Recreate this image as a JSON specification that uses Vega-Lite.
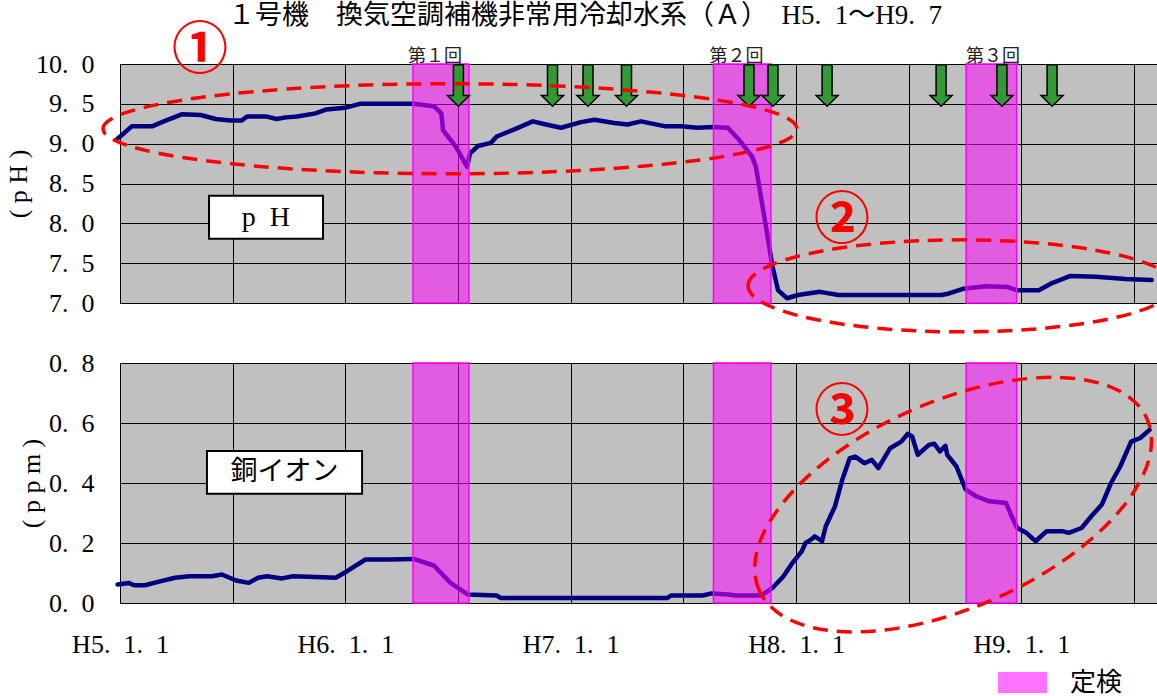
{
  "$schema": "https://vega.github.io/schema/vega-lite/v6.json",
  "background": "white",
  "padding": {"left": 5, "top": 2, "right": 0, "bottom": 0},
  "bounds": "flush",
  "spacing": 60,
  "title": {"text": "１号機　換気空調補機非常用冷却水系（Ａ）　H5.\u20021〜H9.\u20027", "font": "Liberation Serif, Noto Sans CJK JP", "fontSize": 27, "fontWeight": "normal", "color": "black", "anchor": "middle", "frame": "group", "dx": -54, "offset": -8},
  "config": {
    "view": {"fill": "#c0c0c0", "stroke": "#808080", "strokeWidth": 1},
    "axis": {"gridColor": "black", "gridWidth": 1, "gridOpacity": 1, "domain": false, "ticks": false, "labelFlush": false, "labelOverlap": false, "labelFont": "Liberation Serif", "labelFontSize": 26, "labelColor": "black", "titleFont": "Liberation Serif", "titleFontSize": 26, "titleFontWeight": "normal", "titleColor": "black"}
  },
  "resolve": {"scale": {"y": "independent", "color": "independent"}, "legend": {"color": "independent"}},
  "datasets": {
    "ph": [
      {"m": -0.19, "v": 9.05}, {"m": 0.64, "v": 9.22}, {"m": 1.74, "v": 9.22}, {"m": 2.33, "v": 9.28}, {"m": 3.32, "v": 9.37}, {"m": 4.30, "v": 9.36}, {"m": 5.09, "v": 9.31}, {"m": 5.88, "v": 9.29}, {"m": 6.47, "v": 9.29}, {"m": 6.76, "v": 9.34}, {"m": 7.83, "v": 9.34}, {"m": 8.34, "v": 9.31}, {"m": 8.83, "v": 9.33}, {"m": 9.42, "v": 9.34}, {"m": 10.41, "v": 9.38}, {"m": 11.0, "v": 9.43}, {"m": 11.98, "v": 9.45}, {"m": 12.77, "v": 9.50}, {"m": 15.63, "v": 9.50}, {"m": 16.71, "v": 9.47}, {"m": 17.11, "v": 9.38}, {"m": 17.2, "v": 9.17}, {"m": 17.89, "v": 8.96}, {"m": 18.48, "v": 8.71}, {"m": 18.64, "v": 8.88}, {"m": 19.06, "v": 8.97}, {"m": 19.75, "v": 9.01}, {"m": 20.06, "v": 9.09}, {"m": 21.0, "v": 9.18}, {"m": 21.98, "v": 9.28}, {"m": 22.69, "v": 9.24}, {"m": 23.48, "v": 9.20}, {"m": 24.55, "v": 9.27}, {"m": 25.26, "v": 9.30}, {"m": 26.32, "v": 9.26}, {"m": 27.03, "v": 9.24}, {"m": 27.74, "v": 9.28}, {"m": 28.98, "v": 9.22}, {"m": 29.87, "v": 9.22}, {"m": 30.76, "v": 9.20}, {"m": 31.56, "v": 9.21}, {"m": 32.37, "v": 9.20}, {"m": 32.96, "v": 9.05}, {"m": 33.65, "v": 8.84}, {"m": 33.86, "v": 8.71}, {"m": 34.15, "v": 8.30}, {"m": 34.45, "v": 7.88}, {"m": 34.74, "v": 7.46}, {"m": 35.04, "v": 7.16}, {"m": 35.52, "v": 7.06}, {"m": 36.10, "v": 7.10}, {"m": 37.27, "v": 7.14}, {"m": 38.26, "v": 7.10}, {"m": 40.22, "v": 7.10}, {"m": 43.75, "v": 7.10}, {"m": 44.14, "v": 7.12}, {"m": 44.93, "v": 7.18}, {"m": 46.10, "v": 7.21}, {"m": 47.28, "v": 7.20}, {"m": 47.76, "v": 7.16}, {"m": 48.93, "v": 7.16}, {"m": 49.63, "v": 7.25}, {"m": 50.61, "v": 7.34}, {"m": 51.97, "v": 7.33}, {"m": 53.55, "v": 7.30}, {"m": 54.93, "v": 7.29}
    ],
    "cu": [
      {"m": -0.13, "v": 0.062}, {"m": 0.46, "v": 0.067}, {"m": 0.75, "v": 0.059}, {"m": 1.33, "v": 0.059}, {"m": 2.13, "v": 0.072}, {"m": 2.93, "v": 0.084}, {"m": 3.71, "v": 0.089}, {"m": 4.89, "v": 0.089}, {"m": 5.43, "v": 0.095}, {"m": 6.18, "v": 0.075}, {"m": 6.86, "v": 0.067}, {"m": 7.35, "v": 0.084}, {"m": 7.83, "v": 0.089}, {"m": 8.63, "v": 0.082}, {"m": 9.21, "v": 0.089}, {"m": 10.41, "v": 0.087}, {"m": 11.49, "v": 0.084}, {"m": 12.09, "v": 0.106}, {"m": 13.07, "v": 0.145}, {"m": 14.35, "v": 0.145}, {"m": 15.63, "v": 0.147}, {"m": 16.71, "v": 0.125}, {"m": 17.60, "v": 0.067}, {"m": 18.53, "v": 0.028}, {"m": 20.06, "v": 0.025}, {"m": 20.26, "v": 0.017}, {"m": 24.0, "v": 0.017}, {"m": 29.15, "v": 0.017}, {"m": 29.34, "v": 0.025}, {"m": 31.02, "v": 0.025}, {"m": 31.51, "v": 0.032}, {"m": 32.39, "v": 0.028}, {"m": 32.78, "v": 0.025}, {"m": 34.15, "v": 0.025}, {"m": 34.74, "v": 0.050}, {"m": 35.33, "v": 0.089}, {"m": 35.81, "v": 0.134}, {"m": 36.30, "v": 0.172}, {"m": 36.50, "v": 0.200}, {"m": 36.79, "v": 0.211}, {"m": 36.99, "v": 0.222}, {"m": 37.38, "v": 0.206}, {"m": 37.58, "v": 0.256}, {"m": 38.07, "v": 0.322}, {"m": 38.46, "v": 0.411}, {"m": 38.86, "v": 0.483}, {"m": 39.15, "v": 0.488}, {"m": 39.64, "v": 0.466}, {"m": 40.03, "v": 0.477}, {"m": 40.38, "v": 0.450}, {"m": 41.01, "v": 0.516}, {"m": 41.60, "v": 0.538}, {"m": 41.95, "v": 0.564}, {"m": 42.18, "v": 0.555}, {"m": 42.48, "v": 0.494}, {"m": 43.07, "v": 0.527}, {"m": 43.36, "v": 0.531}, {"m": 43.66, "v": 0.505}, {"m": 43.95, "v": 0.524}, {"m": 44.05, "v": 0.494}, {"m": 44.54, "v": 0.455}, {"m": 45.03, "v": 0.378}, {"m": 45.61, "v": 0.355}, {"m": 46.30, "v": 0.339}, {"m": 47.18, "v": 0.333}, {"m": 47.48, "v": 0.289}, {"m": 47.77, "v": 0.250}, {"m": 48.26, "v": 0.234}, {"m": 48.75, "v": 0.206}, {"m": 49.34, "v": 0.239}, {"m": 50.22, "v": 0.239}, {"m": 50.52, "v": 0.234}, {"m": 51.20, "v": 0.250}, {"m": 51.79, "v": 0.294}, {"m": 52.28, "v": 0.328}, {"m": 52.77, "v": 0.400}, {"m": 53.26, "v": 0.455}, {"m": 53.84, "v": 0.538}, {"m": 54.33, "v": 0.550}, {"m": 54.82, "v": 0.577}
    ],
    "bands": [{"s": 15.6, "e": 18.58, "k": "定検"}, {"s": 31.6, "e": 34.66, "k": "定検"}, {"s": 45.05, "e": 47.74, "k": "定検"}],
    "rounds": [{"m": 16.77, "v": 10.085, "t": "第１回"}, {"m": 32.83, "v": 10.085, "t": "第２回"}, {"m": 46.49, "v": 10.085, "t": "第３回"}],
    "arrows": [{"m": 18.02, "v": 9.73}, {"m": 23.03, "v": 9.73}, {"m": 24.92, "v": 9.73}, {"m": 26.97, "v": 9.73}, {"m": 33.49, "v": 9.73}, {"m": 34.77, "v": 9.73}, {"m": 37.65, "v": 9.73}, {"m": 43.72, "v": 9.73}, {"m": 46.96, "v": 9.73}, {"m": 49.63, "v": 9.73}],
    "e1": [{"m": 17.57, "v": 9.187}],
    "e2": [{"m": 44.78, "v": 7.215}],
    "e3": [{"m": 44.36, "v": 0.328}],
    "boxTop": [{"x1": 4.74, "x2": 10.81, "y1": 8.345, "y2": 7.805, "m": 7.77, "v": 8.07, "t": "p\u2002H"}],
    "boxBot": [{"x1": 4.63, "x2": 12.89, "y1": 0.507, "y2": 0.364, "m": 8.76, "v": 0.436, "t": "銅イオン"}],
    "numTop": [{"m": 4.26, "v": 10.167, "t": "①"}, {"m": 38.45, "v": 8.03, "t": "②"}],
    "numBot": [{"m": 38.45, "v": 0.635, "t": "③"}]
  },
  "vconcat": [
    {
      "width": 1038,
      "height": 239,
      "layer": [
        {
          "data": {"name": "ph"},
          "mark": {"type": "line", "color": "#000080", "strokeWidth": 4.5, "strokeJoin": "round", "strokeCap": "round"},
          "encoding": {
            "x": {"field": "m", "type": "quantitative", "scale": {"domain": [0, 55.27], "nice": false, "zero": false}, "axis": {"values": [0, 6, 12, 18, 24, 30, 36, 42, 48, 54], "tickCount": 30, "labels": false, "title": null, "grid": true}},
            "y": {"field": "v", "type": "quantitative", "scale": {"domain": [7, 10], "nice": false, "zero": false}, "axis": {"values": [7, 7.5, 8, 8.5, 9, 9.5, 10], "tickCount": 20, "labelOverlap": false, "labelExpr": "replace(format(datum.value, '.1f'), '.', '.\u2002')", "labelPadding": 26, "title": "( p H )", "titlePadding": 4, "grid": true}}
          }
        },
        {
          "data": {"name": "bands"},
          "mark": {"type": "rect", "fillOpacity": 0.52, "stroke": "#ff00ff", "strokeWidth": 1.5, "strokeOpacity": 1},
          "encoding": {
            "x": {"field": "s", "type": "quantitative"},
            "x2": {"field": "e"},
            "color": {"field": "k", "type": "nominal", "scale": {"domain": ["定検"], "range": ["#ff00ff"]}, "legend": null}
          }
        },
        {
          "data": {"name": "rounds"},
          "mark": {"type": "text", "font": "Noto Sans CJK JP", "fontSize": 18, "color": "#222222", "baseline": "middle", "align": "center"},
          "encoding": {"x": {"field": "m", "type": "quantitative"}, "y": {"field": "v", "type": "quantitative"}, "text": {"field": "t"}}
        },
        {
          "data": {"name": "arrows"},
          "mark": {"type": "point", "shape": "M -5 -20.8 L 5 -20.8 L 5 10 L 11 10 L 0 20.8 L -11 10 L -5 10 Z", "size": 4, "filled": true, "fill": "#339933", "stroke": "black", "strokeWidth": 1.5, "opacity": 1},
          "encoding": {"x": {"field": "m", "type": "quantitative"}, "y": {"field": "v", "type": "quantitative"}}
        },
        {
          "data": {"name": "e1"},
          "mark": {"type": "point", "shape": "M -347 0 A 347 45 0 0 1 347 0 A 347 45 0 0 1 -347 0 Z", "size": 4, "filled": false, "stroke": "#ff0000", "strokeWidth": 3.5, "strokeDash": [15, 9], "opacity": 1},
          "encoding": {"x": {"field": "m", "type": "quantitative"}, "y": {"field": "v", "type": "quantitative"}}
        },
        {
          "data": {"name": "e2"},
          "mark": {"type": "point", "shape": "M -213 0 A 213 46 0 0 1 213 0 A 213 46 0 0 1 -213 0 Z", "size": 4, "filled": false, "stroke": "#ff0000", "strokeWidth": 3.5, "strokeDash": [15, 9], "opacity": 1},
          "encoding": {"x": {"field": "m", "type": "quantitative"}, "y": {"field": "v", "type": "quantitative"}}
        },
        {
          "data": {"name": "boxTop"},
          "mark": {"type": "rect", "fill": "white", "stroke": "black", "strokeWidth": 2},
          "encoding": {"x": {"field": "x1", "type": "quantitative"}, "x2": {"field": "x2"}, "y": {"field": "y1", "type": "quantitative"}, "y2": {"field": "y2"}}
        },
        {
          "data": {"name": "boxTop"},
          "mark": {"type": "text", "font": "Liberation Serif", "fontSize": 28, "color": "black", "baseline": "middle", "align": "center"},
          "encoding": {"x": {"field": "m", "type": "quantitative"}, "y": {"field": "v", "type": "quantitative"}, "text": {"field": "t"}}
        },
        {
          "data": {"name": "numTop"},
          "mark": {"type": "text", "font": "Noto Sans CJK JP", "fontSize": 56, "fontWeight": "bold", "color": "#ff0000", "baseline": "middle", "align": "center"},
          "encoding": {"x": {"field": "m", "type": "quantitative"}, "y": {"field": "v", "type": "quantitative"}, "text": {"field": "t"}}
        }
      ]
    },
    {
      "width": 1038,
      "height": 240,
      "layer": [
        {
          "data": {"name": "cu"},
          "mark": {"type": "line", "color": "#000080", "strokeWidth": 4.5, "strokeJoin": "round", "strokeCap": "round"},
          "encoding": {
            "x": {"field": "m", "type": "quantitative", "scale": {"domain": [0, 55.27], "nice": false, "zero": false}, "axis": {"values": [0, 6, 12, 18, 24, 30, 36, 42, 48, 54], "tickCount": 30, "labelOverlap": false, "labelExpr": "datum.value % 12 == 0 ? 'H' + (5 + datum.value / 12) + '.\u20021.\u20021' : ''", "labelPadding": 28, "title": null, "grid": true}},
            "y": {"field": "v", "type": "quantitative", "scale": {"domain": [0, 0.8], "nice": false, "zero": false}, "axis": {"values": [0, 0.2, 0.4, 0.6, 0.8], "tickCount": 20, "labelOverlap": false, "labelExpr": "replace(format(datum.value, '.1f'), '.', '.\u2002')", "labelPadding": 26, "title": "( p p m )", "titlePadding": 4, "grid": true}}
          }
        },
        {
          "data": {"name": "bands"},
          "mark": {"type": "rect", "fillOpacity": 0.52, "stroke": "#ff00ff", "strokeWidth": 1.5, "strokeOpacity": 1},
          "encoding": {
            "x": {"field": "s", "type": "quantitative"},
            "x2": {"field": "e"},
            "color": {"field": "k", "type": "nominal", "scale": {"domain": ["定検"], "range": ["#ff00ff"]}, "legend": {"title": null, "orient": "none", "legendX": 878, "legendY": 295, "padding": 0, "symbolType": "M -1 -0.4 L 1 -0.4 L 1 0.4 L -1 0.4 Z", "symbolSize": 2209, "symbolStrokeColor": "#ff00ff", "symbolStrokeWidth": 2, "symbolOpacity": 0.55, "labelFont": "Noto Sans CJK JP", "labelFontSize": 26, "labelColor": "black", "labelOffset": 23}}
          }
        },
        {
          "data": {"name": "e3"},
          "mark": {"type": "point", "shape": "M -194 85.5 A 212 103 -23.8 0 1 194 -85.5 A 212 103 -23.8 0 1 -194 85.5 Z", "size": 4, "filled": false, "stroke": "#ff0000", "strokeWidth": 3.5, "strokeDash": [15, 9], "opacity": 1},
          "encoding": {"x": {"field": "m", "type": "quantitative"}, "y": {"field": "v", "type": "quantitative"}}
        },
        {
          "data": {"name": "boxBot"},
          "mark": {"type": "rect", "fill": "white", "stroke": "black", "strokeWidth": 2},
          "encoding": {"x": {"field": "x1", "type": "quantitative"}, "x2": {"field": "x2"}, "y": {"field": "y1", "type": "quantitative"}, "y2": {"field": "y2"}}
        },
        {
          "data": {"name": "boxBot"},
          "mark": {"type": "text", "font": "Noto Sans CJK JP", "fontSize": 27, "color": "black", "baseline": "middle", "align": "center"},
          "encoding": {"x": {"field": "m", "type": "quantitative"}, "y": {"field": "v", "type": "quantitative"}, "text": {"field": "t"}}
        },
        {
          "data": {"name": "numBot"},
          "mark": {"type": "text", "font": "Noto Sans CJK JP", "fontSize": 56, "fontWeight": "bold", "color": "#ff0000", "baseline": "middle", "align": "center"},
          "encoding": {"x": {"field": "m", "type": "quantitative"}, "y": {"field": "v", "type": "quantitative"}, "text": {"field": "t"}}
        }
      ]
    }
  ]
}
